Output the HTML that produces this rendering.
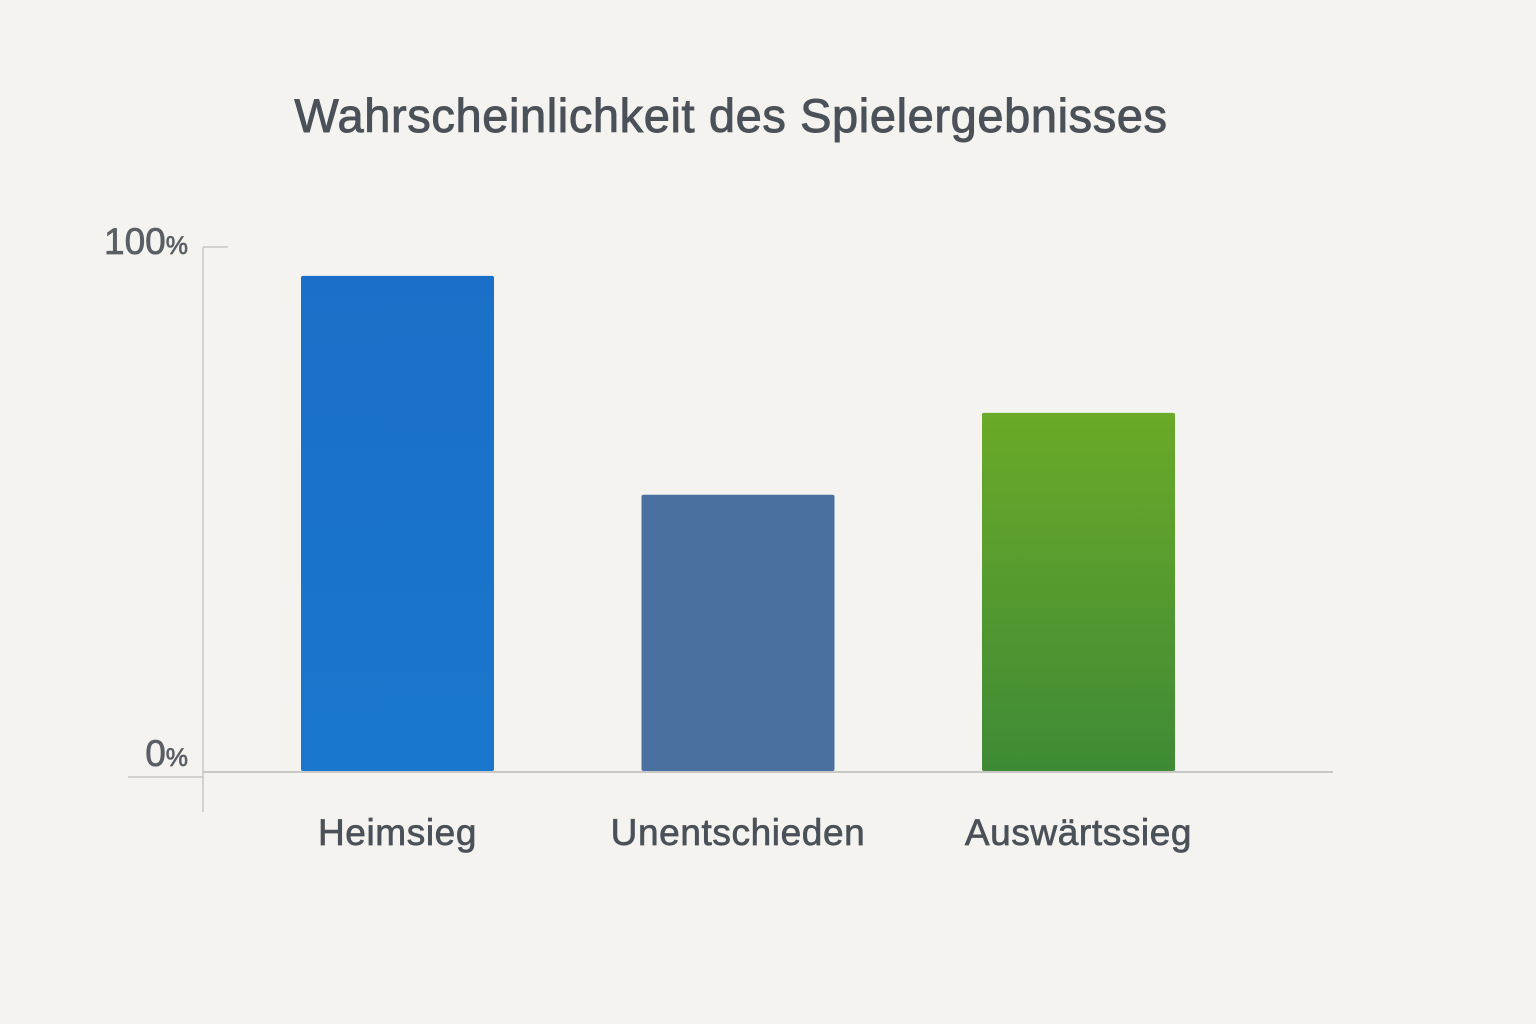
<!DOCTYPE html>
<html><head><meta charset="utf-8"><style>
html,body{margin:0;padding:0;background:#f4f3ef;}
svg{display:block;font-family:"Liberation Sans","DejaVu Sans",sans-serif;}
</style></head><body>
<svg id="chart" width="1536" height="1024" viewBox="0 0 1536 1024" xmlns="http://www.w3.org/2000/svg">
<defs>
<linearGradient id="gGreen" x1="0" y1="0" x2="0" y2="1"><stop offset="0" stop-color="#6aaa28"/><stop offset="1" stop-color="#3f8a36"/></linearGradient>
<linearGradient id="gBlue" x1="0" y1="0" x2="0" y2="1"><stop offset="0" stop-color="#1b6fc8"/><stop offset="1" stop-color="#1a76cc"/></linearGradient>
</defs>
<rect width="1536" height="1024" fill="#f4f3ef"/>
<text x="731" y="132" text-anchor="middle" font-size="47" fill="#4b5159" stroke="#4b5159" stroke-width="0.9" letter-spacing="0.6">Wahrscheinlichkeit des Spielergebnisses</text>
<line x1="203" y1="247" x2="203" y2="812" stroke="#c8c8c6" stroke-width="1.5"/>
<line x1="203" y1="247" x2="228" y2="247" stroke="#c8c8c6" stroke-width="1.5"/>
<line x1="128" y1="777" x2="203" y2="777" stroke="#c8c8c6" stroke-width="1.5"/>
<line x1="203" y1="772" x2="1333" y2="772" stroke="#c8c8c6" stroke-width="2"/>
<g id="ylabels"></g>
<g id="bars"></g>
<g id="xlabels"></g>
</svg>
<script>
const categories = ["Heimsieg", "Unentschieden", "Auswärtssieg"];
const values = [94.5, 52.8, 68.4];
const tickValues = [0, 100];
const tickLabels = ["0", "100"];
const fills = ["url(#gBlue)", "#4a70a0", "url(#gGreen)"];

const NS = "http://www.w3.org/2000/svg";
const y0 = 772, y100 = 247;
function yScale(v){ return y0 - (y0 - y100) * v / 100; }
const barStart = 301, barStep = 340.5, barW = 193;
function xScale(i){ return barStart + i * barStep; }

const bars = document.getElementById("bars");
const xl = document.getElementById("xlabels");
values.forEach((v, i) => {
  const r = document.createElementNS(NS, "rect");
  r.setAttribute("x", xScale(i));
  r.setAttribute("y", yScale(v));
  r.setAttribute("width", barW);
  r.setAttribute("height", y0 - 1 - yScale(v));
  r.setAttribute("rx", 2);
  r.setAttribute("fill", fills[i]);
  
  
  bars.appendChild(r);
  const t = document.createElementNS(NS, "text");
  t.setAttribute("x", xScale(i) + barW / 2);
  t.setAttribute("y", 845);
  t.setAttribute("text-anchor", "middle");
  t.setAttribute("font-size", "37");
  t.setAttribute("letter-spacing", "0.6");
  t.setAttribute("fill", "#4b5159");
  t.setAttribute("stroke", "#4b5159");
  t.setAttribute("stroke-width", "0.7");
  t.textContent = categories[i];
  
  
  xl.appendChild(t);
});
const yl = document.getElementById("ylabels");
tickValues.forEach((v, i) => {
  const t = document.createElementNS(NS, "text");
  t.setAttribute("x", 188);
  t.setAttribute("y", yScale(v) + (v === 0 ? -6 : 7));
  t.setAttribute("text-anchor", "end");
  t.setAttribute("font-size", "37");
  t.setAttribute("fill", "#5a5f66");
  t.setAttribute("stroke", "#5a5f66");
  t.setAttribute("stroke-width", "0.7");
  const a = document.createElementNS(NS, "tspan");
  a.textContent = tickLabels[i];
  const b = document.createElementNS(NS, "tspan");
  b.setAttribute("font-size", "25");
  b.textContent = "%";
  t.appendChild(a); t.appendChild(b);
  
  
  yl.appendChild(t);
});
</script>
</body></html>
